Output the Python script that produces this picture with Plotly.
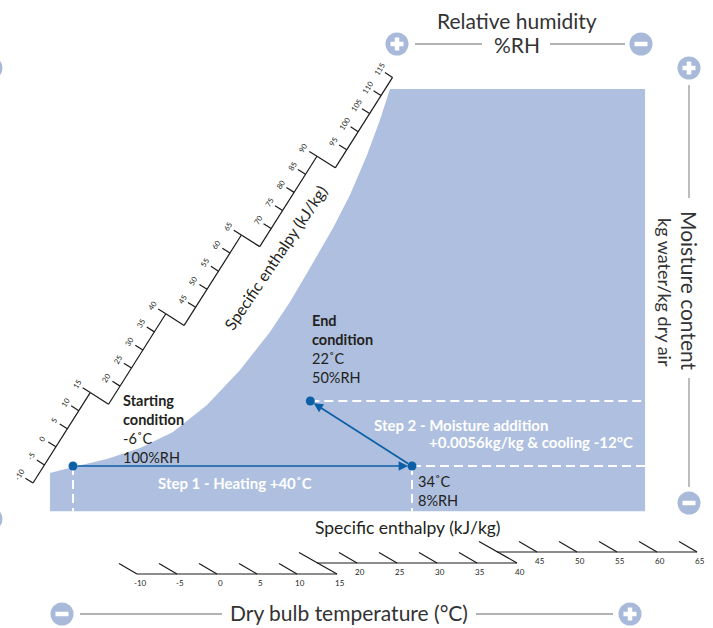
import math
import plotly.graph_objects as go

# ---------------- data ----------------
condition_names = ["Starting condition", "After heating", "End condition"]
condition_temp_c = [-6, 34, 22]            # dry bulb temperature, °C
condition_rh_pct = [100, 8, 50]            # relative humidity, %
condition_moisture = [0.0024, 0.0024, 0.0080]  # kg water / kg dry air

# saturation (100 %RH) edge of the shaded chart area
sat_curve_temp_c = [-8.71, -6.0, -1.99, 1.91, 5.80, 9.81, 13.71, 17.24, 19.60, 21.96,
                    24.68, 26.68, 28.69, 30.22, 31.40]
sat_curve_moisture = [0.00180, 0.00231, 0.00300, 0.00395, 0.00533, 0.00766, 0.01067, 0.01394,
                      0.01653, 0.01946, 0.02291, 0.02575, 0.02919, 0.03221, 0.03488]
chart_temp_max = 61.5
chart_moisture_min = -0.0015

# enthalpy scale tick labels (kJ/kg)
diag_enthalpy_ticks = [-10, -5, 0, 5, 10, 15, 20, 25, 30, 35, 40, 45, 50, 55, 60, 65,
                       70, 75, 80, 85, 90, 95, 100, 105, 110, 115]
bottom_enthalpy_ticks = [-10, -5, 0, 5, 10, 15, 20, 25, 30, 35, 40, 45, 50, 55, 60, 65]

step1_label = "Step 1 - Heating +40˚C"
step2_label = ["Step 2 - Moisture addition", "+0.0056kg/kg & cooling -12°C"]

# ---------------- styling ----------------
W, H = 713, 628
FONT = "Lato"
TXT = "#231f20"
SHADE = "#aebfdf"
ICON = "#a9b9da"
BLUE = "#0d5fa6"
GREY = "#9a9a9a"

# data-axis scaling (pixels per unit) so the data axes fill the canvas
px_per_c = 8.475
px_per_w = 65 / 0.0056
start_px_x, start_px_y = 73, 466
temp_min = condition_temp_c[0] - start_px_x / px_per_c
temp_max = temp_min + W / px_per_c
w_max = condition_moisture[0] + start_px_y / px_per_w
w_min = w_max - H / px_per_w

fig = go.Figure()

# shaded chart area
fig.add_trace(go.Scatter(
    x=[sat_curve_temp_c[0]] + sat_curve_temp_c + [chart_temp_max, chart_temp_max, sat_curve_temp_c[0]],
    y=[chart_moisture_min] + sat_curve_moisture + [sat_curve_moisture[-1], chart_moisture_min, chart_moisture_min],
    mode="lines", fill="toself", fillcolor=SHADE, line=dict(width=0, color=SHADE),
    hoverinfo="skip", showlegend=False, xaxis="x", yaxis="y"))

# white dashed guide lines
t0, t1, t2 = condition_temp_c
w0, w1, w2 = condition_moisture
fig.add_trace(go.Scatter(
    x=[t0, t0, None, t1, t1, None, t1, chart_temp_max, None, t2, chart_temp_max],
    y=[w0, chart_moisture_min, None, w1, chart_moisture_min, None, w1, w1, None, w2, w2],
    mode="lines", line=dict(color="white", width=2, dash="9px,5px"),
    hoverinfo="skip", showlegend=False, xaxis="x", yaxis="y"))

# process points
fig.add_trace(go.Scatter(
    x=condition_temp_c, y=condition_moisture, mode="markers",
    marker=dict(size=9, color=BLUE), hoverinfo="skip", showlegend=False,
    xaxis="x", yaxis="y"))

annotations = []
shapes = []

# process arrows
for (ha, wa), (hb, wb) in [((t0, w0), (t1, w1)), ((t1, w1), (t2, w2))]:
    annotations.append(dict(x=hb, y=wb, ax=ha, ay=wa, xref="x", yref="y", axref="x", ayref="y",
                            text="", showarrow=True, arrowhead=2, arrowsize=1.1, arrowwidth=1.7,
                            arrowcolor=BLUE, standoff=4, startstandoff=3))


def txt(x, y, text, size=14, color=TXT, xanchor="left", angle=0, bold=False, yanchor="middle"):
    if bold:
        text = "<b>" + text + "</b>"
    annotations.append(dict(x=x, y=y, xref="x2", yref="y2", text=text, showarrow=False,
                            xanchor=xanchor, yanchor=yanchor, textangle=angle, align="left",
                            font=dict(family=FONT, size=size, color=color)))


def seg(xs, ys, x0, y0, x1, y1):
    xs += [x0, x1, None]
    ys += [y0, y1, None]


# condition labels (one block each)
txt(121, 429, f"<b>Starting<br>condition</b><br>{condition_temp_c[0]}˚C<br>{condition_rh_pct[0]}%RH", 14.5)
txt(310, 349, f"<b>End<br>condition</b><br>{condition_temp_c[2]}˚C<br>{condition_rh_pct[2]}%RH", 14.5)
txt(416, 491, f"{condition_temp_c[1]}˚C<br>{condition_rh_pct[1]}%RH", 14.5)

txt(235, 483, step1_label, 15, color="white", xanchor="center", bold=True)
txt(372, 425, step2_label[0], 15, color="white", bold=True)
txt(427, 442, step2_label[1], 15, color="white", bold=True)

# axis titles
txt(517, 20, "Relative humidity", 21, color="#333333", xanchor="center")
txt(517, 44, "%RH", 21, color="#333333", xanchor="center")
txt(690, 291, "Moisture content", 21, color="#333333", xanchor="center", angle=90)
txt(665, 292, "kg water/kg dry air", 18, color="#333333", xanchor="center", angle=90)
txt(349, 612, "Dry bulb temperature (°C)", 21, color="#333333", xanchor="center")
txt(408, 527, "Specific enthalpy (kJ/kg)", 17.5, xanchor="center")
txt(275, 257, "Specific enthalpy (kJ/kg)", 16, xanchor="center", angle=-56)

# grey connector lines
gx, gy = [], []
seg(gx, gy, 415, 44, 482, 44)
seg(gx, gy, 550, 44, 625, 44)
seg(gx, gy, 689, 85, 689, 198)
seg(gx, gy, 689, 378, 689, 487)
seg(gx, gy, 80, 614, 222, 614)
seg(gx, gy, 476, 614, 613, 614)
fig.add_trace(go.Scatter(x=gx, y=gy, mode="lines", line=dict(color=GREY, width=1.3),
                         hoverinfo="skip", showlegend=False, xaxis="x2", yaxis="y2"))


# plus / minus icons
def icon(cx, cy, sign, r=11.5):
    shapes.append(dict(type="circle", xref="x2", yref="y2", x0=cx - r, x1=cx + r, y0=cy - r, y1=cy + r,
                       fillcolor=ICON, line=dict(width=0), layer="above"))
    arm = 6.5
    shapes.append(dict(type="line", xref="x2", yref="y2", x0=cx - arm, x1=cx + arm, y0=cy, y1=cy,
                       line=dict(color="white", width=4.5), layer="above"))
    if sign == "+":
        shapes.append(dict(type="line", xref="x2", yref="y2", x0=cx, x1=cx, y0=cy - arm, y1=cy + arm,
                           line=dict(color="white", width=4.5), layer="above"))


icon(397, 44, "+")
icon(641, 44, "-")
icon(689, 68, "+")
icon(689, 503, "-")
icon(62, 614, "-")
icon(630, 614, "+")
icon(-9, 68, "+")
icon(-9, 519, "-")

# ---- diagonal enthalpy scale ----
ang = math.radians(57.66)
u = (math.cos(ang), -math.sin(ang))       # along the scale
n = (math.sin(ang), math.cos(ang))        # perpendicular (towards the curve)
O = (33, 483)
seg_len, step_off, tick_len, lab_off = 107, 21.7, 9, 15.5
sx, sy = [], []
ticks_per_seg = 5
for k in range(5):
    S = (O[0] + k * (seg_len * u[0] + step_off * n[0]), O[1] + k * (seg_len * u[1] + step_off * n[1]))
    E = (S[0] + seg_len * u[0], S[1] + seg_len * u[1])
    seg(sx, sy, S[0], S[1], E[0], E[1])
    if k < 4:
        S2 = (S[0] + seg_len * u[0] + step_off * n[0], S[1] + seg_len * u[1] + step_off * n[1])
        seg(sx, sy, E[0], E[1], S2[0], S2[1])
    for j in range(ticks_per_seg + 1):
        if k > 0 and j == 0:
            continue
        P = (S[0] + j * seg_len / ticks_per_seg * u[0], S[1] + j * seg_len / ticks_per_seg * u[1])
        seg(sx, sy, P[0], P[1], P[0] - tick_len * n[0], P[1] - tick_len * n[1])
        val = diag_enthalpy_ticks[k * ticks_per_seg + j]
        annotations.append(dict(x=P[0] - lab_off * n[0], y=P[1] - lab_off * n[1], xref="x2", yref="y2",
                                text=str(val), showarrow=False, textangle=-57.66,
                                xanchor="center", yanchor="middle",
                                font=dict(family=FONT, size=7.5, color=TXT)))

# ---- bottom enthalpy scale ----
tvec = (-18, -10.5)
for k in range(3):
    y0 = 574 - 11 * k
    xs0 = 137 + 180 * k
    xe = xs0 + 200
    seg(sx, sy, xs0, y0, xe, y0)
    for j in range(ticks_per_seg + 1):
        if k > 0 and j == 0:
            continue
        x = xs0 + 40 * j
        if j == ticks_per_seg and k < 2:
            seg(sx, sy, x, y0, x - 20 + tvec[0], y0 - 11 + tvec[1])
        else:
            seg(sx, sy, x, y0, x + tvec[0], y0 + tvec[1])
        val = bottom_enthalpy_ticks[k * ticks_per_seg + j]
        annotations.append(dict(x=x + 3, y=y0 + 9, xref="x2", yref="y2", text=str(val), showarrow=False,
                                xanchor="center", yanchor="middle",
                                font=dict(family=FONT, size=8, color=TXT)))

fig.add_trace(go.Scatter(x=sx, y=sy, mode="lines", line=dict(color="#1a1a1a", width=1.2),
                         hoverinfo="skip", showlegend=False, xaxis="x2", yaxis="y2"))

fig.update_layout(
    width=W, height=H, autosize=False,
    margin=dict(l=0, r=0, t=0, b=0, pad=0),
    paper_bgcolor="white", plot_bgcolor="white",
    showlegend=False,
    xaxis=dict(range=[temp_min, temp_max], visible=False, domain=[0, 1], fixedrange=True),
    yaxis=dict(range=[w_min, w_max], visible=False, domain=[0, 1], fixedrange=True),
    xaxis2=dict(range=[0, W], visible=False, overlaying="x", anchor="y2", fixedrange=True),
    yaxis2=dict(range=[H, 0], visible=False, overlaying="y", anchor="x2", fixedrange=True),
    annotations=annotations,
    shapes=shapes,
)

fig.write_html("out.html", config={"displayModeBar": False},
               post_script="document.body.style.margin='0';document.body.style.overflow='hidden';")
